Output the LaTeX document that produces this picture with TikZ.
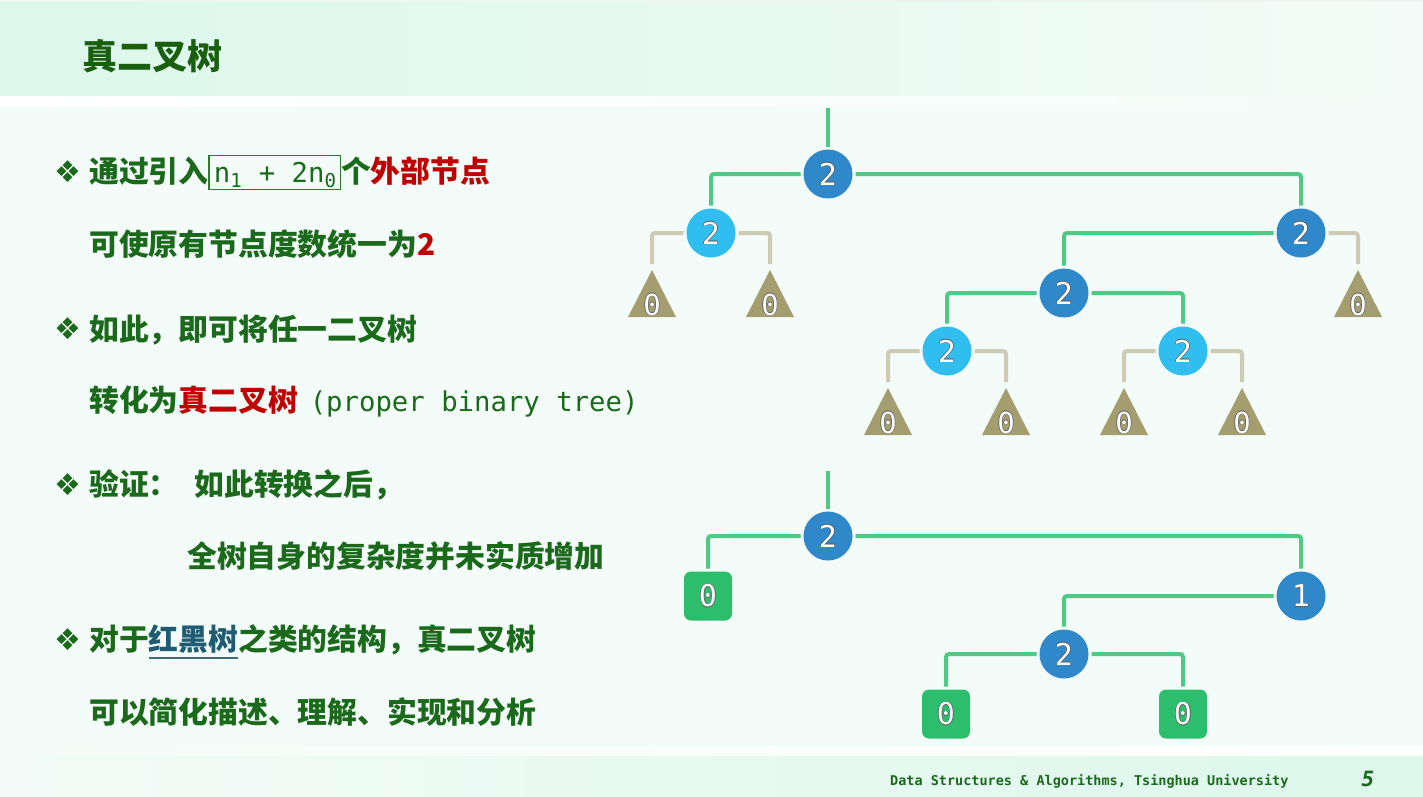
\documentclass[tikz,border=0pt]{standalone}
\usepackage{fontspec}
\setmainfont{DejaVu Sans}
\newfontfamily\cjk{Noto Sans CJK SC}
\newfontfamily\mono{DejaVu Sans Mono}
\newfontfamily\sym{DejaVu Sans}

\definecolor{pagebg}{HTML}{F3FCF8}
\definecolor{headmint}{HTML}{DCF7EB}
\definecolor{topstrip}{HTML}{EEF6F2}
\definecolor{tgreen}{HTML}{1B691B}
\definecolor{titlegreen}{HTML}{1A5E10}
\definecolor{boxgreen}{HTML}{2E7A2E}
\definecolor{tred}{HTML}{C00000}
\definecolor{tteal}{HTML}{1F5B73}
\definecolor{ulcol}{HTML}{3F6B7B}
\definecolor{darkblue}{HTML}{2E88C9}
\definecolor{lightblue}{HTML}{30BDEF}
\definecolor{edgegreen}{HTML}{4FC983}
\definecolor{edgegray}{HTML}{CDCBB4}
\definecolor{tricol}{HTML}{A39D6F}
\definecolor{sqgreen}{HTML}{2DBE6D}
\definecolor{digline}{HTML}{5A5A5A}

% white digit with a thin dark outline
\newcommand\odig[1]{%
  \rlap{\color{digline}\hspace{-0.6pt}#1}%
  \rlap{\color{digline}\hspace{0.6pt}#1}%
  \rlap{\color{digline}\raisebox{0.6pt}{#1}}%
  \rlap{\color{digline}\raisebox{-0.6pt}{#1}}%
  \textcolor{white}{#1}}
% teal text with a rule below it
\newcommand\ulteal[1]{\setbox0\hbox{#1}%
  \rlap{\color{ulcol}\rule[-8.5pt]{\wd0}{2pt}}\textcolor{tteal}{\box0}}
\newcommand\monotext{\mono\mdseries\fontsize{27.3}{29}\selectfont}

\tikzset{
  txt/.style={anchor=base west, inner sep=0pt,
    font=\cjk\bfseries\fontsize{29.8}{34}\selectfont, text=tgreen},
  bul/.style={inner sep=0pt, font=\sym\fontsize{30}{32}\selectfont, text=tgreen},
  inode/.style={circle, minimum size=49pt, inner sep=0pt, outer sep=3pt,
    font=\mono\fontsize{30}{31}\selectfont},
  dnode/.style={inode, fill=darkblue},
  lnode/.style={inode, fill=lightblue},
  extsq/.style={rectangle, rounded corners=7pt, fill=sqgreen,
    minimum width=48pt, minimum height=49pt, inner sep=0pt, outer sep=3pt,
    font=\mono\fontsize{30}{31}\selectfont},
  exttri/.style={rectangle, minimum width=48pt, minimum height=47pt,
    inner sep=0pt, outer sep=6pt, text height=43pt, text depth=0pt,
    font=\mono\fontsize{29}{30}\selectfont,
    path picture={\fill[tricol] (path picture bounding box.south west)
      -- (path picture bounding box.north)
      -- (path picture bounding box.south east) -- cycle;}},
  gline/.style={draw=edgegreen, line width=4pt, rounded corners=3pt},
  xline/.style={draw=edgegray, line width=4pt, rounded corners=3pt},
}

\begin{document}
\begin{tikzpicture}[x=1pt, y=-1pt]
\useasboundingbox (0,0) rectangle (1423,797);

% page background, header and footer bands
\fill[pagebg] (0,0) rectangle (1423,797);
\fill[topstrip] (0,0) rectangle (1423,3);
\shade[left color=headmint, right color=pagebg] (0,3) rectangle (1423,97);
\shade[left color=white, right color=pagebg] (0,97) rectangle (1423,107);
\shade[left color=pagebg, right color=white] (0,746) rectangle (1423,756);
\shade[left color=pagebg, right color=headmint] (0,756) rectangle (1423,797);

% title
\node[anchor=base west, inner sep=0pt, font=\cjk\bfseries\fontsize{35}{40}\selectfont,
  text=titlegreen] (title) at (82,70) {真二叉树};

% bullet text
\node[bul] (b1) at (68,172) {❖};
\node[txt] (l1) at (89,182) {通过引入{\setlength\fboxrule{1.5pt}\setlength\fboxsep{1pt}\color{boxgreen}\fbox{\color{tgreen}\monotext\rule[-4pt]{0pt}{29pt}\hspace{3pt}n\textsubscript{1} + 2n\textsubscript{0}\hspace{2pt}}}个\textcolor{tred}{外部节点}};
\node[txt] (l2) at (89,255) {可使原有节点度数统一为\textcolor{tred}{2}};
\node[bul] (b2) at (68,329) {❖};
\node[txt] (l3) at (89,340) {如此，即可将任一二叉树};
\node[txt] (l4) at (89,411) {转化为\textcolor{tred}{真二叉树}\hspace{12pt}{\monotext(proper binary tree)}};
\node[bul] (b3) at (68,485) {❖};
\node[txt] (l5) at (89,495) {验证：\hspace{16pt}如此转换之后，};
\node[txt] (l6) at (187,567) {全树自身的复杂度并未实质增加};
\node[bul] (b4) at (68,640) {❖};
\node[txt] (l7) at (89,650) {对于\ulteal{红黑树}之类的结构，真二叉树};
\node[txt] (l8) at (89,723) {可以简化描述、理解、实现和分析};

% upper tree: internal nodes
\coordinate (top1) at (828,108);
\node[dnode] (R) at (828,174) {\odig{2}};
\node[lnode] (A) at (711,233) {\odig{2}};
\node[dnode] (B) at (1301,233) {\odig{2}};
\node[dnode] (C) at (1064,293) {\odig{2}};
\node[lnode] (D) at (947,351) {\odig{2}};
\node[lnode] (E) at (1183,351) {\odig{2}};
% upper tree: added external nodes
\node[exttri] (tA1) at (652,293.5) {\odig{0}};
\node[exttri] (tA2) at (770,293.5) {\odig{0}};
\node[exttri] (tB) at (1358,293.5) {\odig{0}};
\node[exttri] (tD1) at (888,411.5) {\odig{0}};
\node[exttri] (tD2) at (1006,411.5) {\odig{0}};
\node[exttri] (tE1) at (1124,411.5) {\odig{0}};
\node[exttri] (tE2) at (1242,411.5) {\odig{0}};

\draw[gline] (top1) -- (R.north);
\draw[gline] (R.west) -| (A.north);
\draw[gline] (R.east) -| (B.north);
\draw[gline] (B.west) -| (C.north);
\draw[gline] (C.west) -| (D.north);
\draw[gline] (C.east) -| (E.north);
\draw[xline] (A.west) -| (tA1.north);
\draw[xline] (A.east) -| (tA2.north);
\draw[xline] (B.east) -| (tB.north);
\draw[xline] (D.west) -| (tD1.north);
\draw[xline] (D.east) -| (tD2.north);
\draw[xline] (E.west) -| (tE1.north);
\draw[xline] (E.east) -| (tE2.north);

% lower tree
\coordinate (top2) at (828,471);
\node[dnode] (R2) at (828,536) {\odig{2}};
\node[extsq] (S1) at (708,596) {\odig{0}};
\node[dnode] (N1) at (1301,596) {\odig{1}};
\node[dnode] (N2) at (1064,654) {\odig{2}};
\node[extsq] (S2) at (946,714) {\odig{0}};
\node[extsq] (S3) at (1183,714) {\odig{0}};

\draw[gline] (top2) -- (R2.north);
\draw[gline] (R2.west) -| (S1.north);
\draw[gline] (R2.east) -| (N1.north);
\draw[gline] (N1.west) -| (N2.north);
\draw[gline] (N2.west) -| (S2.north);
\draw[gline] (N2.east) -| (S3.north);

% footer
\node[anchor=west, inner sep=0pt, font=\mono\bfseries\fontsize{13.5}{15}\selectfont,
  text=tgreen] (foot) at (890,781) {Data Structures \& Algorithms, Tsinghua University};
\node[inner sep=0pt, font=\mono\bfseries\itshape\fontsize{21}{22}\selectfont,
  text=tgreen] (pg) at (1368,779) {5};
\end{tikzpicture}
\end{document}
